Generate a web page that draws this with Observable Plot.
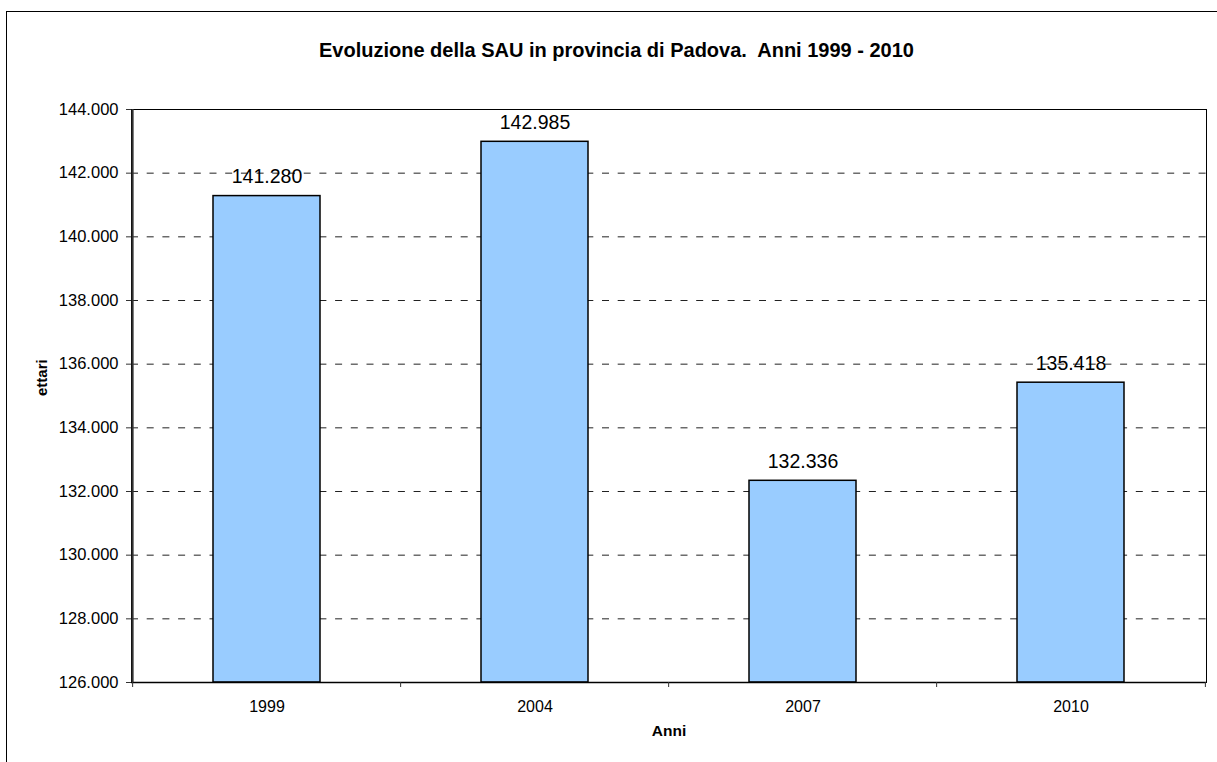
<!DOCTYPE html>
<html>
<head>
<meta charset="utf-8">
<script src="https://cdn.jsdelivr.net/npm/d3@7"></script>
<script src="https://cdn.jsdelivr.net/npm/@observablehq/plot@0.6"></script>
<style>
  html, body { margin: 0; padding: 0; background: #fff; }
  body { width: 1217px; height: 762px; overflow: hidden; position: relative; font-family: "Liberation Sans", Arial, sans-serif; }
  #border { position: absolute; left: 6px; top: 11px; width: 1400px; height: 900px; border-left: 1.5px solid #000; border-top: 1.5px solid #000; }
  #title { position: absolute; left: 0; top: 40px; width: 1233px; text-align: center; font-weight: bold; font-size: 20px; line-height: 1; color: #000; white-space: pre; }
  #chart { position: absolute; left: 0; top: 0; }
</style>
</head>
<body>
<div id="border"></div>
<div id="title">Evoluzione della SAU in provincia di Padova.  Anni 1999 - 2010</div>
<div id="chart"></div>
<script>
const years = ["1999", "2004", "2007", "2010"];
const values = [141280, 142985, 132336, 135418];
const yTicks = [126000, 128000, 130000, 132000, 134000, 136000, 138000, 140000, 142000, 144000];
const yLabel = "ettari";
const xLabel = "Anni";

const data = years.map((year, i) => ({year, value: values[i]}));
const fmt = (v) => (v / 1000).toFixed(3);
const yMin = yTicks[0], yMax = yTicks[yTicks.length - 1];
const gridTicks = yTicks.slice(1, -1);

const W = 1217, H = 762, mL = 131, mR = 11, mT = 109, mB = 80;
const step = (W - mL - mR) / years.length;

const plot = Plot.plot({
  width: W, height: H,
  marginLeft: mL, marginRight: mR, marginTop: mT, marginBottom: mB,
  style: {fontFamily: "'Liberation Sans', Arial, sans-serif", background: "transparent", color: "#000"},
  x: {type: "band", domain: years, paddingInner: 0.6, paddingOuter: 0.3},
  y: {domain: [yMin, yMax]},
  marks: [
    Plot.ruleY(gridTicks, {stroke: "#222", strokeWidth: 1, strokeDasharray: "7,8.7"}),
    Plot.barY(data, {x: "year", y1: () => yMin, y2: "value", fill: "#99CCFF", stroke: "#000", strokeWidth: 1.5}),
    Plot.text(data, {x: "year", y: "value", text: d => fmt(d.value), dy: -19, fontSize: 19.5, fill: "#000"}),
    Plot.frame({stroke: "#000", strokeWidth: 1}),
    Plot.ruleY([yMin], {stroke: "#000", strokeWidth: 1.5}),
    Plot.ruleX([years[0]], {dx: -step / 2, stroke: "#333", strokeWidth: 2}),
    Plot.axisY({ticks: yTicks, tickFormat: fmt, tickSize: 5, tickPadding: 8, fontSize: 16.5, label: null, stroke: "#333"}),
    Plot.axisX({tickSize: 0, tickPadding: 18, fontSize: 16, label: null}),
    Plot.axisX({ticks: years, tickSize: 5, text: null, dx: -step / 2, label: null, stroke: "#333"}),
    Plot.axisX({ticks: [years[years.length - 1]], tickSize: 5, text: null, dx: step / 2, label: null, stroke: "#333"}),
    Plot.text([yLabel], {frameAnchor: "left", dx: -89, rotate: -90, fontWeight: "bold", fontSize: 15, fill: "#000"}),
    Plot.text([xLabel], {frameAnchor: "bottom", dy: 53, fontWeight: "bold", fontSize: 15.5, fill: "#000"})
  ]
});
document.getElementById("chart").appendChild(plot);
</script>
</body>
</html>
